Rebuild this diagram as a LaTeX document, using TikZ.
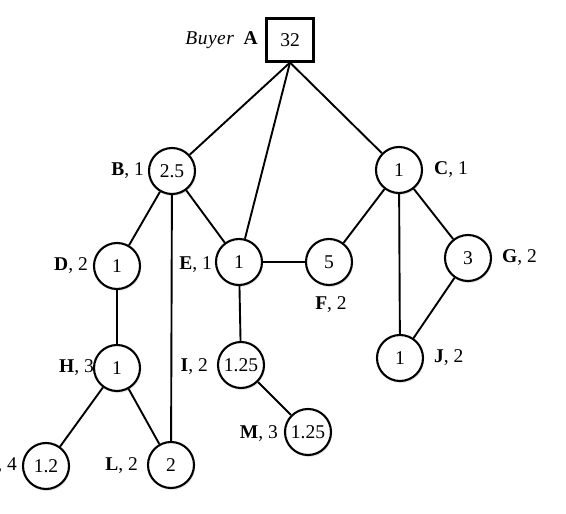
\documentclass[tikz,border=0pt]{standalone}
\usepackage{fontspec}
\setmainfont{Liberation Serif}
\usetikzlibrary{shadows}
\begin{document}
\begin{tikzpicture}[x=1pt,y=-1pt,
  vtx/.style={circle,draw,line width=2.1pt,minimum size=46pt,inner sep=0pt,font=\fontsize{19.5}{21}\selectfont,
    drop shadow={opacity=0.2,shadow xshift=1pt,shadow yshift=-2pt},fill=white},
  buyer/.style={rectangle,draw,line width=2.1pt,minimum width=47pt,minimum height=43pt,inner sep=0pt,font=\fontsize{19.5}{21}\selectfont,fill=white},
  lbl/.style={font=\fontsize{19.5}{21}\selectfont,inner sep=0pt},
  edge/.style={line width=1.9pt}]
\useasboundingbox (0,0) rectangle (566,514);
% nodes
\node[buyer] (A) at (290,40) {32};
\node[vtx] (B) at (172,171) {2.5};
\node[vtx] (C) at (399,170) {1};
\node[vtx] (D) at (117,266) {1};
\node[vtx] (E) at (239,262) {1};
\node[vtx] (F) at (329,262) {5};
\node[vtx] (G) at (468,258) {3};
\node[vtx] (H) at (117,368) {1};
\node[vtx] (I) at (241,365) {1.25};
\node[vtx] (J) at (400,358) {1};
\node[vtx] (K) at (46,466) {1.2};
\node[vtx] (L) at (171,465) {2};
\node[vtx] (M) at (308,432) {1.25};
% labels
\node[lbl,anchor=east] (lA) at (258,40) {\textit{B\kern0.5pt u\kern0.5pt y\kern0.5pt e\kern0.5pt r}\enspace\textbf{A}};
\node[lbl,anchor=east] (lB) at (144,171) {\textbf{B}, 1};
\node[lbl,anchor=west] (lC) at (434,170) {\textbf{C}, 1};
\node[lbl,anchor=east] (lD) at (88,266) {\textbf{D}, 2};
\node[lbl,anchor=east] (lE) at (212,265) {\textbf{E}, 1};
\node[lbl] (lF) at (331,305) {\textbf{F}, 2};
\node[lbl,anchor=west] (lG) at (502,258) {\textbf{G}, 2};
\node[lbl,anchor=east] (lH) at (94,368) {\textbf{H}, 3};
\node[lbl,anchor=east] (lI) at (208,367) {\textbf{I}, 2};
\node[lbl,anchor=west] (lJ) at (434,358) {\textbf{J}, 2};
\node[lbl,anchor=east] (lK) at (17,466) {\textbf{K}, 4};
\node[lbl,anchor=east] (lL) at (138,466) {\textbf{L}, 2};
\node[lbl,anchor=east] (lM) at (278,434) {\textbf{M}, 3};
% edges
\draw[edge] (A.south) -- (B);
\draw[edge] (A.south) -- (E);
\draw[edge] (A.south) -- (C);
\draw[edge] (B) -- (D);
\draw[edge] (B) -- (E);
\draw[edge] (B) -- (L);
\draw[edge] (D) -- (H);
\draw[edge] (H) -- (K);
\draw[edge] (H) -- (L);
\draw[edge] (E) -- (F);
\draw[edge] (E) -- (I);
\draw[edge] (I) -- (M);
\draw[edge] (C) -- (F);
\draw[edge] (C) -- (J);
\draw[edge] (C) -- (G);
\draw[edge] (G) -- (J);
\end{tikzpicture}
\end{document}
